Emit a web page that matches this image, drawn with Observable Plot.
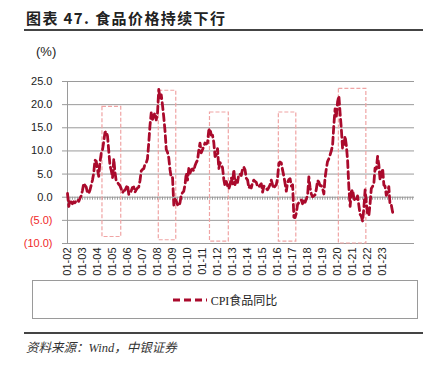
<!DOCTYPE html>
<html>
<head>
<meta charset="utf-8">
<script src="https://cdn.jsdelivr.net/npm/d3@7"></script>
<script src="https://cdn.jsdelivr.net/npm/@observablehq/plot@0.6"></script>
<style>
  html, body { margin: 0; padding: 0; background: #fff; }
  #wrap { position: relative; width: 430px; height: 365px; overflow: hidden; font-family: "Liberation Sans", Arial, "Noto Sans CJK SC", sans-serif; color: #222; }
  .abs { position: absolute; }
  #title { left: 26px; top: 8px; font-family: "Noto Sans CJK SC", sans-serif; font-weight: bold; font-size: 15px; letter-spacing: 1.4px; white-space: nowrap; line-height: 20px; }
  .hline { left: 24px; width: 399px; height: 1.5px; background: #444; }
  #unit { left: 36px; top: 44px; font-size: 13px; line-height: 16px; }
  #chart { left: 0; top: 70px; }
  #legend { left: 32px; top: 280px; width: 384px; height: 37px; border: 1px solid #9a9a9a; display: flex; align-items: center; justify-content: center; }
  #legend span { font-family: "Liberation Serif", "Noto Sans CJK SC", serif; font-size: 12px; margin-left: 4px; }
  #source { left: 26px; top: 337px; font-family: "Liberation Serif", "Noto Sans CJK SC", serif; font-style: italic; font-size: 12.5px; white-space: nowrap; color: #333; }
</style>
</head>
<body>
<div id="wrap">
  <div id="title" class="abs">图表 47. 食品价格持续下行</div>
  <div class="abs hline" style="top:29px"></div>
  <div id="unit" class="abs">(%)</div>
  <div id="chart" class="abs"></div>
  <div id="legend" class="abs">
    <svg width="34" height="8"><line x1="0" y1="4" x2="34" y2="4" stroke="#aa0a2c" stroke-width="3" stroke-dasharray="7,4"></line></svg>
    <span>CPI食品同比</span>
  </div>
  <div class="abs hline" style="top:332px"></div>
  <div id="source" class="abs">资料来源：Wind，中银证券</div>
</div>
<script>
// CPI food, year-on-year (%), monthly from 2002-01 to 2023-10
const firstMonth = "2002-01";
const foodYoY = [
  0.8, -2.0, -0.6, -1.0, -1.4, -1.0, -1.2, -0.8, -0.5, -0.9, -0.2, 0.3,
  1.5, 3.0, 2.6, 2.2, 1.0, 0.8, 1.5, 2.6, 3.7, 5.2, 8.0, 7.8,
  6.0, 4.5, 7.5, 9.5, 10.2, 12.0, 14.0, 14.2, 13.2, 10.0, 6.8, 5.8,
  4.2, 8.3, 5.4, 3.5, 3.2, 2.8, 2.5, 1.8, 1.0, 1.4, 1.5, 2.1,
  2.6, 0.6, 0.8, 1.4, 2.1, 2.2, 1.1, 1.6, 2.0, 2.2, 3.6, 5.7,
  6.0, 6.2, 7.1, 7.4, 8.3, 11.6, 15.4, 18.2, 16.8, 17.6, 18.2, 16.7,
  18.2, 23.3, 21.4, 22.1, 19.9, 17.3, 14.4, 10.3, 9.7, 8.5, 5.9, 4.2,
  4.2, -1.7, -0.4, -0.8, -1.6, -1.9, -1.2, 0.5, 1.0, 1.3, 2.7, 5.2,
  3.7, 6.2, 5.2, 5.9, 6.1, 5.7, 6.8, 7.5, 8.0, 10.1, 11.7, 9.6,
  10.3, 11.0, 11.7, 11.5, 11.7, 14.4, 14.8, 13.4, 13.4, 11.9, 8.8, 9.1,
  10.5, 6.2, 7.5, 7.0, 6.4, 3.9, 2.4, 3.4, 2.5, 1.8, 2.7, 4.2,
  2.9, 6.0, 2.7, 4.0, 3.2, 4.9, 5.0, 4.7, 6.1, 6.5, 5.9, 4.1,
  3.7, 2.0, 2.4, 2.0, 3.1, 3.7, 3.4, 3.2, 2.3, 2.2, 2.6, 2.9,
  1.1, 2.4, 2.3, 1.9, 1.6, 2.1, 2.7, 3.7, 2.7, 1.9, 2.4, 2.7,
  4.1, 7.3, 7.6, 7.4, 5.9, 4.6, 3.0, 1.3, 3.2, 3.8, 4.0, 2.4,
  2.7, -4.3, -4.4, -3.5, -1.6, -1.2, -1.1, -0.6, -1.4, -0.4, -1.1, -0.4,
  0.4, 4.4, 2.1, 0.7, 0.1, 0.3, 0.5, 1.7, 3.6, 3.3, 2.5, 2.5,
  1.9, 0.7, 4.1, 6.1, 7.7, 8.3, 9.1, 10.0, 11.2, 15.5, 19.1, 17.4,
  20.6, 21.9, 18.3, 14.8, 10.6, 11.1, 13.2, 11.2, 7.9, 2.2, -2.0, 1.2,
  1.6, -0.2, -0.7, -0.7, 0.3, -1.7, -3.7, -4.1, -5.2, -2.4, 1.6, -1.2,
  -3.8, -3.9, -1.5, 1.9, 2.3, 2.9, 6.3, 6.1, 8.8, 7.0, 3.7, 4.8,
  6.2, 2.6, 2.4, 0.4, 1.0, 2.3, -1.7, -1.7, -3.2, -4.0
];

// highlighted periods (dashed boxes)
const boxStart  = ["2004-05", "2008-02", "2011-07", "2016-02", "2020-02"];
const boxEnd    = ["2005-08", "2009-04", "2012-10", "2017-04", "2021-12"];
const boxTop    = [19.5, 23.0, 18.3, 18.3, 23.4];
const boxBottom = [-8.6, -9.3, -9.6, -9.6, -10.0];

// axis ticks
const yTicks = [25, 20, 15, 10, 5, 0, -5, -10];
const xTickYears = d3.range(2002, 2024);
const xDomainEnd = "2025-02-15";

const parseMonth = d3.utcParse("%Y-%m");
const parseDay = d3.utcParse("%Y-%m-%d");
const start = parseMonth(firstMonth);
const data = foodYoY.map((v, i) => ({date: d3.utcMonth.offset(start, i), value: v}));
const boxes = boxStart.map((s, i) => ({
  x1: parseMonth(s), x2: parseMonth(boxEnd[i]), y1: boxBottom[i], y2: boxTop[i]
}));
const xTicks = xTickYears.map(y => new Date(Date.UTC(y, 0, 1)));
const minorTicks = d3.utcMonth.every(2).range(start, parseDay(xDomainEnd));
const fmtY = v => v < 0 ? `(${Math.abs(v).toFixed(1)})` : v.toFixed(1);

const chart = Plot.plot({
  width: 430,
  height: 210,
  marginTop: 11,
  marginBottom: 37,
  marginLeft: 67,
  marginRight: 16,
  style: {fontFamily: '"Liberation Sans", Arial, sans-serif', fontSize: "11px", background: "transparent", color: "#222"},
  x: {type: "utc", domain: [start, parseDay(xDomainEnd)]},
  y: {domain: [-10, 25]},
  marks: [
    Plot.ruleY(yTicks, {stroke: "#9a9a9a", strokeWidth: 1}),
    Plot.ruleX([start], {stroke: "#9a9a9a", strokeWidth: 1}),
    Plot.ruleX(minorTicks, {x: d => d, y1: 0, y2: -0.65, stroke: "#9a9a9a", strokeWidth: 1}),
    Plot.axisY(yTicks.filter(v => v >= 0), {tickSize: 5, tickPadding: 10, stroke: "#9a9a9a", fill: "#222", tickFormat: fmtY, fontSize: 11}),
    Plot.axisY(yTicks.filter(v => v < 0), {tickSize: 5, tickPadding: 10, stroke: "#9a9a9a", fill: "#f02828", tickFormat: fmtY, fontSize: 11}),
    Plot.axisX(xTicks, {anchor: "bottom", tickSize: 0, tickPadding: 4, tickRotate: -90, tickFormat: d => "01-" + d3.utcFormat("%y")(d), fontSize: 11, fill: "#222"}),
    Plot.rect(boxes, {x1: "x1", x2: "x2", y1: "y1", y2: "y2", fill: "none", stroke: "#f0a4a4", strokeWidth: 1.2, strokeDasharray: "4,2"}),
    Plot.line(data, {x: "date", y: "value", stroke: "#aa0a2c", strokeWidth: 2.8, strokeDasharray: "7,4"})
  ]
});
document.getElementById("chart").appendChild(chart);
</script>
</body>
</html>
